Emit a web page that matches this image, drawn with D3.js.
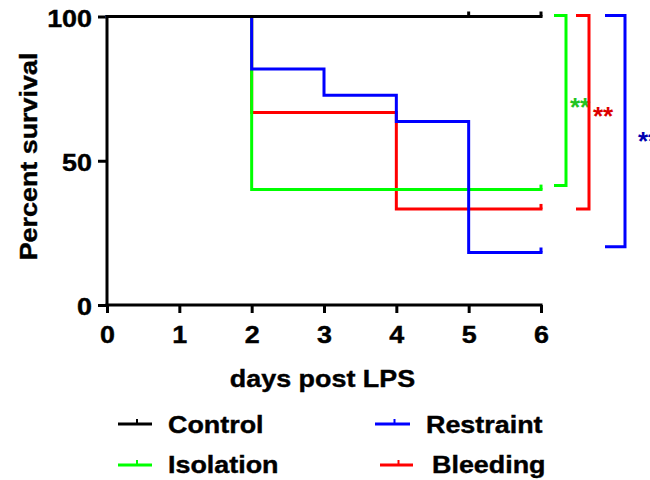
<!DOCTYPE html>
<html>
<head>
<meta charset="utf-8">
<script src="https://cdn.jsdelivr.net/npm/d3@7"></script>
<style>
  html, body { margin: 0; padding: 0; background: #fff; }
  svg { display: block; }
  text { font-family: "Liberation Sans", Arial, sans-serif; font-weight: bold; }
  text.heavy { stroke: #000; stroke-width: 0.4px; }
</style>
</head>
<body>
<svg id="chart" width="650" height="480"></svg>
<script>
// Survival (%) per day after LPS for each group
const days = [0, 1, 2, 3, 4, 5, 6];
const seriesNames = ["Control", "Isolation", "Restraint", "Bleeding"];
const controlValues   = [100, 100, 100, 100, 100, 100, 100];
const isolationValues = [100, 100, 40, 40, 40, 40, 40];
const restraintValues = [100, 100, 81.8, 72.7, 63.6, 18.2, 18.2];
const bleedingValues  = [100, 100, 66.7, 66.7, 33.3, 33.3, 33.3];
// censored observations (day) per group
const controlCensor   = [5, 6];
const isolationCensor = [6];
const restraintCensor = [6];
const bleedingCensor  = [6];

const xTicks = [0, 1, 2, 3, 4, 5, 6];
const yTicks = [0, 50, 100];

// significance brackets: from 100 % down to the group's level
const bracketGroups = ["Isolation", "Bleeding", "Restraint"];
const bracketLow    = [41.4, 33.3, 20.2];
const bracketLabels = ["**", "**", "**"];

const colors = { Control: "#000000", Isolation: "#00ff00", Restraint: "#0000ff", Bleeding: "#ff0000" };
const starColors = { Isolation: "#22c422", Bleeding: "#dd0000", Restraint: "#0000b0" };

const series = [
  { name: "Control",   values: controlValues,   censor: controlCensor },
  { name: "Isolation", values: isolationValues, censor: isolationCensor },
  { name: "Restraint", values: restraintValues, censor: restraintCensor },
  { name: "Bleeding",  values: bleedingValues,  censor: bleedingCensor }
];

const svg = d3.select("#chart");
const x = d3.scaleLinear().domain([0, 6]).range([107, 541]);
const y = d3.scaleLinear().domain([0, 100]).range([305, 16.5]);

const STRETCH = 1.12;
function stretch(sel) {
  sel.each(function () {
    const w = this.getComputedTextLength();
    d3.select(this).attr("textLength", w * STRETCH).attr("lengthAdjust", "spacingAndGlyphs");
  });
}

// axes
const xAxis = svg.append("g").attr("transform", `translate(0,${y(0)})`)
  .call(d3.axisBottom(x).tickValues(xTicks).tickSize(8).tickFormat(d3.format("d")));
const yAxis = svg.append("g").attr("transform", `translate(${x(0)},0)`)
  .call(d3.axisLeft(y).tickValues(yTicks).tickSize(9).tickFormat(d3.format("d")));
[xAxis, yAxis].forEach(a => {
  a.select(".domain").attr("stroke", "#000").attr("stroke-width", 3);
  a.selectAll(".tick line").attr("stroke", "#000").attr("stroke-width", 3);
  a.selectAll("text").attr("fill", "#000").attr("class", "heavy").style("font-size", "24px");
});
xAxis.select(".domain").attr("d", `M${x(0)},0H${x(6)}`).attr("stroke-linecap", "square");
yAxis.select(".domain").attr("d", `M0,${y(100)}V${y(0)}`).attr("stroke-linecap", "square");
xAxis.selectAll(".tick text").attr("dy", null).attr("y", 38);
yAxis.selectAll(".tick text").attr("dy", null).attr("x", -15).attr("y", 9.5);
xAxis.selectAll(".tick text").call(stretch);
yAxis.selectAll(".tick text").call(stretch);

// survival step curves
const line = d3.line().x((d, i) => x(days[i])).y(d => y(d)).curve(d3.curveStepAfter);
const drawOrder = ["Bleeding", "Isolation", "Restraint", "Control"];
drawOrder.forEach(name => {
  const s = series.find(v => v.name === name);
  svg.append("path").datum(s.values)
    .attr("d", line)
    .attr("fill", "none")
    .attr("stroke", colors[name])
    .attr("stroke-width", 3)
    .attr("stroke-linejoin", "miter")
    .attr("stroke-linecap", "square");
  // censor ticks
  svg.append("g").selectAll("line").data(s.censor).join("line")
    .attr("x1", d => x(d)).attr("x2", d => x(d))
    .attr("y1", d => y(s.values[days.indexOf(d)]))
    .attr("y2", d => y(s.values[days.indexOf(d)]) - 5)
    .attr("stroke", colors[name]).attr("stroke-width", 3);
});

// axis titles
svg.append("text").attr("class", "heavy").attr("x", 322.5).attr("y", 387).attr("text-anchor", "middle")
  .style("font-size", "24px").attr("fill", "#000").text("days post LPS").call(stretch);
svg.append("text").attr("class", "heavy").attr("transform", "translate(37,156.5) rotate(-90)").attr("text-anchor", "middle")
  .style("font-size", "24px").attr("fill", "#000").text("Percent survival").call(stretch);

// significance brackets
const bracketX   = [566, 589, 625];
const bracketArm = [12, 13, 20];
const labelX     = [570, 593, 638];
const labelY     = [116, 125, 150];
bracketGroups.forEach((g, i) => {
  const bx = bracketX[i], arm = bracketArm[i];
  svg.append("path")
    .attr("d", `M${bx - arm},${y(100) - 1}H${bx}V${y(bracketLow[i])}H${bx - arm}`)
    .attr("fill", "none").attr("stroke", colors[g]).attr("stroke-width", 3);
  svg.append("text").attr("x", labelX[i]).attr("y", labelY[i])
    .style("font-size", "26px").attr("fill", starColors[g]).text(bracketLabels[i]);
});

// legend
const legendPos = {
  Control:   { lx: 118, ly: 424, tx: 168, ty: 433, len: 34 },
  Isolation: { lx: 118, ly: 465, tx: 168, ty: 473, len: 34 },
  Restraint: { lx: 375, ly: 424, tx: 426, ty: 433, len: 35 },
  Bleeding:  { lx: 380, ly: 465, tx: 432, ty: 473, len: 33 }
};
seriesNames.forEach(name => {
  const p = legendPos[name];
  const g = svg.append("g");
  g.append("line").attr("x1", p.lx).attr("x2", p.lx + p.len).attr("y1", p.ly).attr("y2", p.ly)
    .attr("stroke", colors[name]).attr("stroke-width", 3);
  g.append("line").attr("x1", p.lx + p.len / 2 + 2).attr("x2", p.lx + p.len / 2 + 2)
    .attr("y1", p.ly).attr("y2", p.ly - 5)
    .attr("stroke", colors[name]).attr("stroke-width", 2);
  g.append("text").attr("class", "heavy").attr("x", p.tx).attr("y", p.ty).style("font-size", "24px")
    .attr("fill", "#000").text(name).call(stretch);
});
</script>
</body>
</html>
